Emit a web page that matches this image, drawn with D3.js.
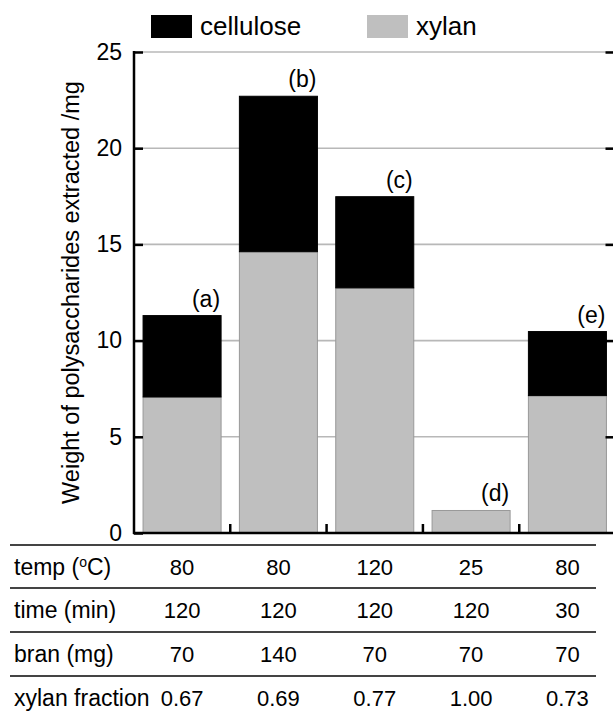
<!DOCTYPE html>
<html>
<head>
<meta charset="utf-8">
<script src="https://cdn.jsdelivr.net/npm/d3@7"></script>
<style>
  body { margin: 0; background: #fff; }
  text { font-family: "Liberation Sans", Arial, sans-serif; fill: #000; }
</style>
</head>
<body>
<svg id="canvas" width="613" height="716"></svg>
<script>
// data
const conditions = ["(a)", "(b)", "(c)", "(d)", "(e)"]
const xylan = [7.07, 14.62, 12.74, 1.17, 7.14]
const cellulose = [4.23, 8.08, 4.74, 0, 3.33]
const yTicks = [0, 5, 10, 15, 20, 25]
const seriesNames = ["cellulose", "xylan"]
const seriesColors = ["#000000", "#bfbfbf"]

const rowLabels = ["temp (oC)", "time (min)", "bran (mg)", "xylan fraction"]
const tempRow = ["80", "80", "120", "25", "80"]
const timeRow = ["120", "120", "120", "120", "30"]
const branRow = ["70", "140", "70", "70", "70"]
const fractionRow = ["0.67", "0.69", "0.77", "1.00", "0.73"]

let canvas = d3.select("#canvas")

let plotLeft = 134, plotRight = 615.5, plotTop = 52, plotBottom = 533

let y = d3.scaleLinear().domain([0, 25]).range([plotBottom, plotTop])
let x = d3.scaleBand()
          .domain(conditions)
          .range([plotLeft, plotRight])
          .paddingInner(0.19)
          .paddingOuter(0.094)

// grid lines
canvas.append("g")
      .selectAll("line")
      .data(yTicks.filter(d => d > 0))
      .enter()
      .append("line")
      .attr("x1", plotLeft)
      .attr("x2", plotRight)
      .attr("y1", d => y(d))
      .attr("y2", d => y(d))
      .attr("stroke", "#b8b8b8")
      .attr("stroke-width", 1.6)

// stacked bars
let stackData = conditions.map((c, i) => ({ key: c, xylan: xylan[i], cellulose: cellulose[i] }))
let stacked = d3.stack().keys(["xylan", "cellulose"])(stackData)

canvas.append("g")
      .selectAll("g")
      .data(stacked)
      .enter()
      .append("g")
      .attr("fill", d => d.key === "xylan" ? seriesColors[1] : seriesColors[0])
      .attr("stroke", d => d.key === "xylan" ? "#999" : "#000")
      .attr("stroke-width", 1)
      .selectAll("rect")
      .data(d => d.filter(p => p[1] - p[0] > 0))
      .enter()
      .append("rect")
      .attr("x", d => x(d.data.key))
      .attr("width", x.bandwidth())
      .attr("y", d => y(d[1]))
      .attr("height", d => y(d[0]) - y(d[1]))

// bar letters
canvas.append("g")
      .selectAll("text")
      .data(stackData)
      .enter()
      .append("text")
      .attr("x", d => x(d.key) + x.bandwidth() - 1)
      .attr("y", d => y(d.xylan + d.cellulose) - 9)
      .attr("text-anchor", "end")
      .attr("font-size", 23)
      .text(d => d.key)

// left axis, ticks pointing inward
let yAxis = canvas.append("g")
                  .attr("transform", "translate(" + plotLeft + ",0)")
                  .call(d3.axisLeft(y).tickValues(yTicks).tickSize(-9).tickPadding(12).tickFormat(d3.format("d")))
yAxis.select(".domain").remove()
yAxis.selectAll("line").attr("stroke", "#000").attr("stroke-width", 2.5)
yAxis.selectAll("text")
     .attr("font-size", 23)
     .attr("font-family", "Liberation Sans, Arial, sans-serif")

// right side ticks
let rAxis = canvas.append("g")
                  .attr("transform", "translate(" + plotRight + ",0)")
                  .call(d3.axisLeft(y).tickValues(yTicks.filter(d => d > 0)).tickSize(10).tickFormat(""))
rAxis.select(".domain").remove()
rAxis.selectAll("line").attr("stroke", "#000").attr("stroke-width", 2.5)

canvas.append("line")
      .attr("x1", plotLeft).attr("x2", plotLeft)
      .attr("y1", plotTop - 1).attr("y2", plotBottom + 1)
      .attr("stroke", "#000").attr("stroke-width", 2.5)
canvas.append("line")
      .attr("x1", plotLeft - 1).attr("x2", plotRight)
      .attr("y1", plotBottom).attr("y2", plotBottom)
      .attr("stroke", "#000").attr("stroke-width", 2.5)

// x ticks between bars
let step = x.step()
canvas.append("g")
      .selectAll("line")
      .data(conditions.slice(1))
      .enter()
      .append("line")
      .attr("x1", d => x(d) - step * x.paddingInner() / 2)
      .attr("x2", d => x(d) - step * x.paddingInner() / 2)
      .attr("y1", plotBottom - 9)
      .attr("y2", plotBottom)
      .attr("stroke", "#000")
      .attr("stroke-width", 2.5)

// y title
canvas.append("text")
      .attr("transform", "translate(79," + (plotTop + plotBottom) / 2 + ") rotate(-90)")
      .attr("text-anchor", "middle")
      .attr("font-size", 23.5)
      .text("Weight of polysaccharides extracted /mg")

// legend
const legend = canvas.append("g")
const lg = legend.selectAll("g")
                 .data(seriesNames)
                 .enter()
                 .append("g")
                 .attr("transform", (d, i) => "translate(" + (151 + i * 216) + ",15)")
lg.append("rect")
  .attr("width", 41)
  .attr("height", 23)
  .attr("fill", (d, i) => seriesColors[i])
lg.append("text")
  .attr("x", 49)
  .attr("y", 20)
  .attr("font-size", 26)
  .text(d => d)

// condition table
const rows = [tempRow, timeRow, branRow, fractionRow]
const rowTop = [545, 588, 632, 676]
const rowH = 43

const table = canvas.append("g")
table.selectAll("line")
     .data(rowTop)
     .enter()
     .append("line")
     .attr("x1", 10).attr("x2", 596)
     .attr("y1", d => d).attr("y2", d => d)
     .attr("stroke", "#444")
     .attr("stroke-width", 2)

rows.forEach((row, r) => {
  let label = table.append("text")
                   .attr("x", 14)
                   .attr("y", rowTop[r] + rowH / 2 + 8)
                   .attr("font-size", 23)
  if (r === 0) {
    label.append("tspan").text("temp (")
    label.append("tspan").attr("font-size", 14).attr("dy", -8).text("o")
    label.append("tspan").attr("dy", 8).text("C)")
  } else {
    label.text(rowLabels[r])
  }
  table.selectAll(".v" + r)
       .data(row)
       .enter()
       .append("text")
       .attr("class", "v" + r)
       .attr("x", (d, i) => x(conditions[i]) + x.bandwidth() / 2)
       .attr("y", rowTop[r] + rowH / 2 + 8)
       .attr("text-anchor", "middle")
       .attr("font-size", 22)
       .text(d => d)
})
</script>
</body>
</html>
